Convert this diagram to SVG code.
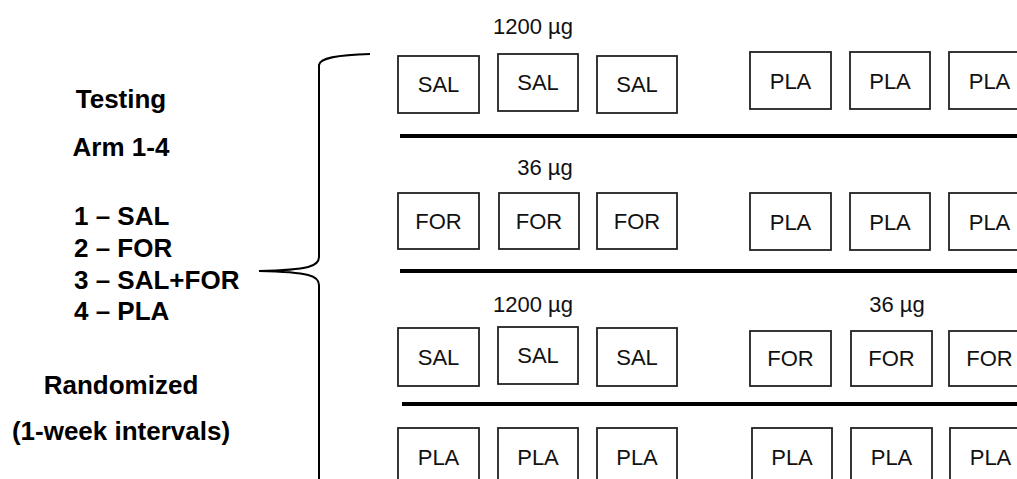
<svg xmlns="http://www.w3.org/2000/svg" width="1017" height="479" viewBox="0 0 1017 479">
<style>
.box rect{fill:#fff;stroke:#222;stroke-width:1.8}
.box text{font-family:"Liberation Sans",Arial,sans-serif;font-size:22px;fill:#111;text-anchor:middle}
.dose{font-family:"Liberation Sans",Arial,sans-serif;font-size:22px;fill:#111;text-anchor:middle}
.lbl{font-family:"Liberation Sans",Arial,sans-serif;font-size:26px;font-weight:bold;fill:#000}
.sep{stroke:#000;stroke-width:4;fill:none}
.brace{stroke:#000;stroke-width:2;fill:none}
</style>
<rect width="1017" height="479" fill="#fff"/>
<g id="labels">
<text class="lbl" x="121" y="108" text-anchor="middle">Testing</text>
<text class="lbl" x="121" y="156" text-anchor="middle">Arm 1-4</text>
<text class="lbl" x="74" y="225">1 – SAL</text>
<text class="lbl" x="74" y="257">2 – FOR</text>
<text class="lbl" x="74" y="289">3 – SAL+FOR</text>
<text class="lbl" x="74" y="320">4 – PLA</text>
<text class="lbl" x="121" y="394" text-anchor="middle">Randomized</text>
<text class="lbl" x="121" y="440" text-anchor="middle">(1-week intervals)</text>
</g>
<g id="connectors">
<path class="brace" d="M370,54 C336,55 320,58 319,65 V257 C319,266 310,270 259,271 C310,272 319,276 319,285 V479"/>
<line class="sep" x1="400" y1="136" x2="1017" y2="136"/>
<line class="sep" x1="400" y1="271" x2="1017" y2="271"/>
<line class="sep" x1="402" y1="404" x2="1017" y2="404"/>
</g>
<g id="doses">
<text class="dose" x="533" y="34">1200 µg</text>
<text class="dose" x="545" y="175">36 µg</text>
<text class="dose" x="533" y="312">1200 µg</text>
<text class="dose" x="897" y="312">36 µg</text>
</g>
<g id="row1">
<g id="r1b1" class="box"><rect x="398" y="56" width="81" height="57"/><text x="438.5" y="92">SAL</text></g>
<g id="r1b2" class="box"><rect x="498" y="54" width="80" height="57"/><text x="538" y="90">SAL</text></g>
<g id="r1b3" class="box"><rect x="597" y="56" width="80" height="57"/><text x="637" y="92">SAL</text></g>
<g id="r1b4" class="box"><rect x="750" y="52" width="81" height="57"/><text x="790.5" y="89">PLA</text></g>
<g id="r1b5" class="box"><rect x="850" y="52" width="80" height="57"/><text x="890" y="89">PLA</text></g>
<g id="r1b6" class="box"><rect x="949" y="52" width="81" height="57"/><text x="989.5" y="89">PLA</text></g>
</g>
<g id="row2">
<g id="r2b1" class="box"><rect x="398" y="193" width="81" height="56"/><text x="438.5" y="229">FOR</text></g>
<g id="r2b2" class="box"><rect x="499" y="193" width="80" height="56"/><text x="539" y="229">FOR</text></g>
<g id="r2b3" class="box"><rect x="597" y="193" width="80" height="56"/><text x="637" y="229">FOR</text></g>
<g id="r2b4" class="box"><rect x="750" y="193" width="81" height="57"/><text x="790.5" y="230">PLA</text></g>
<g id="r2b5" class="box"><rect x="850" y="193" width="80" height="57"/><text x="890" y="230">PLA</text></g>
<g id="r2b6" class="box"><rect x="949" y="193" width="81" height="57"/><text x="989.5" y="230">PLA</text></g>
</g>
<g id="row3">
<g id="r3b1" class="box"><rect x="398" y="328" width="81" height="58"/><text x="438.5" y="365">SAL</text></g>
<g id="r3b2" class="box"><rect x="498" y="327" width="80" height="57"/><text x="538" y="363">SAL</text></g>
<g id="r3b3" class="box"><rect x="597" y="328" width="80" height="58"/><text x="637" y="365">SAL</text></g>
<g id="r3b4" class="box"><rect x="750" y="331" width="81" height="55"/><text x="790.5" y="366">FOR</text></g>
<g id="r3b5" class="box"><rect x="851" y="331" width="81" height="55"/><text x="891.5" y="366">FOR</text></g>
<g id="r3b6" class="box"><rect x="949" y="331" width="81" height="55"/><text x="989.5" y="366">FOR</text></g>
</g>
<g id="row4">
<g id="r4b1" class="box"><rect x="398" y="428" width="81" height="58"/><text x="438.5" y="465">PLA</text></g>
<g id="r4b2" class="box"><rect x="498" y="428" width="80" height="58"/><text x="538" y="465">PLA</text></g>
<g id="r4b3" class="box"><rect x="597" y="428" width="80" height="58"/><text x="637" y="465">PLA</text></g>
<g id="r4b4" class="box"><rect x="752" y="428" width="80" height="58"/><text x="792" y="465">PLA</text></g>
<g id="r4b5" class="box"><rect x="851" y="428" width="81" height="58"/><text x="891.5" y="465">PLA</text></g>
<g id="r4b6" class="box"><rect x="950" y="428" width="81" height="58"/><text x="990.5" y="465">PLA</text></g>
</g>
</svg>
